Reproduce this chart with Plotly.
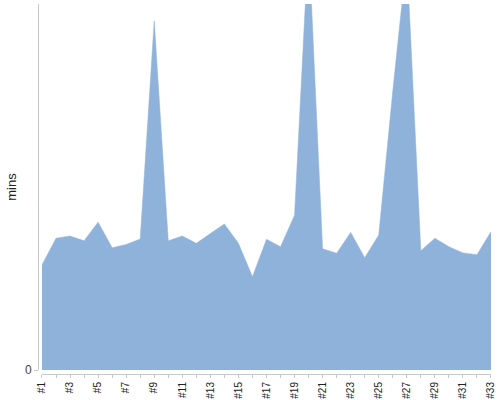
import plotly.graph_objects as go

categories = ["#%d" % i for i in range(1, 34)]
mins = [28.7, 36.0, 36.6, 35.3, 40.4, 33.4, 34.3, 35.8, 95.4, 35.3,
        36.6, 34.6, 37.3, 39.9, 34.6, 25.5, 35.7, 33.7, 42.3, 117.5,
        33.1, 31.9, 37.6, 30.7, 36.9, 76.2, 112.8, 32.6, 36.0, 33.7,
        32.0, 31.5, 37.8]
tick_labels = [c if i % 2 == 0 else "" for i, c in enumerate(categories)]
y_ticks = [0]

fig = go.Figure()
fig.add_trace(go.Scatter(
    x=categories, y=mins, mode="lines", fill="tozeroy",
    fillcolor="#8fb2db", line=dict(color="#8fb2db", width=0.5),
    hoverinfo="x+y", showlegend=False,
))

fig.update_layout(
    width=500, height=400,
    margin=dict(l=38, r=9, t=4, b=26, autoexpand=False),
    paper_bgcolor="white", plot_bgcolor="white",
    font=dict(family="Arial, Liberation Sans, sans-serif", color="#333"),
    xaxis=dict(
        domain=[0.0088, 1], anchor="free", position=0, automargin=False,
        type="category", range=[0, 32],
        tickvals=categories, ticktext=tick_labels, tickangle=-90,
        tickfont=dict(size=10, color="#222"),
        showline=True, linecolor="#c8c8c8", linewidth=1,
        ticks="outside", ticklen=3, tickcolor="#c8c8c8",
        showgrid=False, zeroline=False,
    ),
    yaxis=dict(
        domain=[0.0108, 1], anchor="free", position=0, automargin=False,
        range=[0, 100], tickvals=y_ticks, ticktext=["0"],
        tickfont=dict(size=12, color="#444"),
        showline=True, linecolor="#c8c8c8", linewidth=1,
        ticks="outside", ticklen=4, tickcolor="#c8c8c8",
        showgrid=False, zeroline=False,
        title=dict(text="mins", font=dict(size=13, color="#222"), standoff=4),
    ),
)

fig.write_html("out.html", config={"displayModeBar": False},
               post_script="document.body.style.margin='0';")
